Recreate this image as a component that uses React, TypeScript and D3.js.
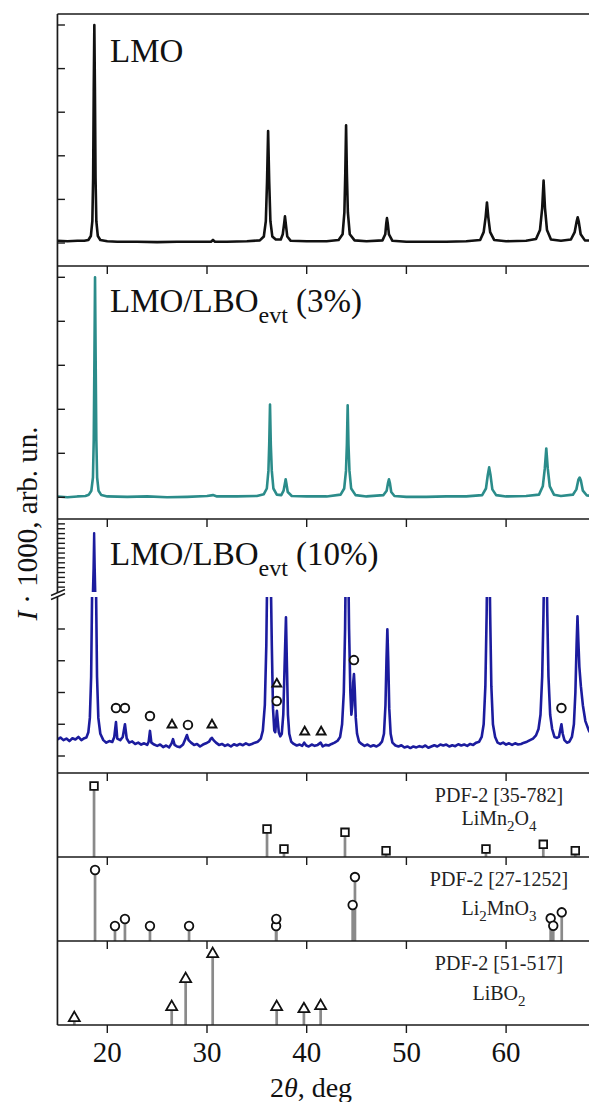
import React from 'react';
import * as d3 from 'd3';

// ---------- DATA ----------
// 2θ (deg) vs intensity (arb. units, panel scale)
const lmo: [number, number][] = [
  [15, 0.05], [16, 0.04], [17, 0.05], [17.7, 0.05], [18.1, 0.07], [18.35, 0.16], [18.5, 0.5], [18.58, 1.5],
  [18.64, 3.5], [18.7, 5.0], [18.76, 3.5], [18.82, 1.5], [18.9, 0.5], [19.05, 0.16], [19.3, 0.07],
  [20, 0.04], [21, 0.03], [23, 0.03], [25, 0.02], [27, 0.03], [29, 0.03], [30.4, 0.03], [30.6, 0.07],
  [30.8, 0.03], [32, 0.03], [34, 0.04], [35.3, 0.06], [35.7, 0.15], [35.9, 0.5], [36.02, 1.4], [36.13, 2.57],
  [36.24, 1.4], [36.36, 0.5], [36.55, 0.15], [36.9, 0.08], [37.4, 0.08], [37.6, 0.2], [37.74, 0.45],
  [37.82, 0.61], [37.9, 0.45], [38.05, 0.15], [38.4, 0.05], [40, 0.04], [42, 0.04], [43.2, 0.07],
  [43.6, 0.2], [43.78, 0.7], [43.87, 1.6], [43.95, 2.7], [44.03, 1.6], [44.13, 0.7], [44.32, 0.2],
  [44.8, 0.06], [46, 0.04], [47.6, 0.06], [47.88, 0.2], [47.98, 0.45], [48.05, 0.57], [48.13, 0.45],
  [48.25, 0.2], [48.6, 0.05], [50, 0.03], [52, 0.03], [54, 0.03], [56, 0.04], [57.4, 0.07], [57.75, 0.25],
  [57.95, 0.6], [58.08, 0.93], [58.21, 0.6], [58.4, 0.25], [58.8, 0.07], [60, 0.04], [62, 0.05], [63.0, 0.09],
  [63.4, 0.3], [63.62, 0.8], [63.76, 1.43], [63.9, 0.8], [64.1, 0.3], [64.5, 0.08], [65.5, 0.05],
  [66.5, 0.08], [66.88, 0.25], [67.08, 0.5], [67.18, 0.59], [67.28, 0.5], [67.48, 0.2], [67.9, 0.06], [70, 0.05],
];

const lmoLbo3: [number, number][] = [
  [15, 0.02], [16, 0.0], [17, 0.02], [17.8, 0.03], [18.15, 0.06], [18.4, 0.15], [18.56, 0.45], [18.64, 1.3],
  [18.71, 3.2], [18.77, 5.0], [18.83, 3.2], [18.9, 1.3], [18.98, 0.45], [19.12, 0.15], [19.4, 0.05],
  [20, 0.02], [22, 0.01], [24, 0.02], [26, 0.0], [28, 0.01], [30, 0.03], [30.6, 0.05], [31, 0.02], [33, 0.02],
  [35, 0.03], [35.7, 0.07], [36.0, 0.2], [36.16, 0.6], [36.24, 1.2], [36.32, 2.11], [36.4, 1.2], [36.5, 0.6],
  [36.66, 0.2], [37.0, 0.06], [37.45, 0.05], [37.68, 0.15], [37.82, 0.32], [37.89, 0.41], [37.96, 0.32],
  [38.1, 0.12], [38.5, 0.03], [40, 0.02], [42, 0.02], [43.4, 0.06], [43.76, 0.2], [43.94, 0.6], [44.03, 1.2],
  [44.11, 2.09], [44.19, 1.2], [44.29, 0.6], [44.46, 0.2], [44.9, 0.05], [46, 0.02], [47.7, 0.05],
  [48.02, 0.15], [48.16, 0.33], [48.25, 0.41], [48.34, 0.33], [48.48, 0.12], [48.8, 0.03], [50, 0.01],
  [52, 0.01], [54, 0.02], [56, 0.02], [57.6, 0.05], [57.98, 0.2], [58.16, 0.5], [58.3, 0.68], [58.44, 0.5],
  [58.62, 0.18], [59.0, 0.05], [60, 0.02], [62, 0.03], [63.3, 0.06], [63.68, 0.25], [63.88, 0.65],
  [64.03, 1.11], [64.18, 0.65], [64.38, 0.25], [64.8, 0.06], [65.5, 0.03], [66.7, 0.06], [67.05, 0.18],
  [67.25, 0.4], [67.38, 0.45], [67.5, 0.38], [67.7, 0.15], [68.1, 0.04], [70, 0.03],
];

const lmoLbo10: [number, number][] = [
  [15.0, 0.52], [15.3, 0.58], [15.6, 0.5], [15.9, 0.55], [16.2, 0.47], [16.5, 0.56], [16.8, 0.52],
  [17.1, 0.6], [17.4, 0.5], [17.7, 0.56], [17.9, 0.58], [18.1, 0.75], [18.25, 1.2], [18.38, 2.5],
  [18.47, 5], [18.55, 9], [18.62, 20], [18.68, 34.2], [18.74, 20], [18.8, 9], [18.88, 5], [18.97, 2.5],
  [19.1, 1.2], [19.3, 0.7], [19.6, 0.5], [19.9, 0.42], [20.2, 0.47], [20.5, 0.44], [20.7, 0.6],
  [20.87, 1.07], [21.0, 0.55], [21.3, 0.5], [21.55, 0.6], [21.77, 1.0], [21.95, 0.55], [22.2, 0.42],
  [22.5, 0.46], [22.8, 0.38], [23.1, 0.42], [23.4, 0.36], [23.7, 0.4], [24.0, 0.35], [24.15, 0.45],
  [24.28, 0.79], [24.42, 0.42], [24.7, 0.36], [25.0, 0.32], [25.3, 0.36], [25.6, 0.28], [25.9, 0.33],
  [26.2, 0.27], [26.45, 0.4], [26.59, 0.53], [26.75, 0.35], [27.0, 0.3], [27.3, 0.28], [27.6, 0.36],
  [27.85, 0.55], [27.99, 0.66], [28.15, 0.5], [28.4, 0.42], [28.7, 0.35], [29.0, 0.38], [29.3, 0.3],
  [29.6, 0.36], [29.9, 0.4], [30.2, 0.45], [30.4, 0.55], [30.5, 0.57], [30.65, 0.5], [30.9, 0.42],
  [31.2, 0.35], [31.5, 0.38], [31.8, 0.32], [32.1, 0.36], [32.4, 0.3], [32.7, 0.37], [33.0, 0.33],
  [33.3, 0.38], [33.6, 0.34], [33.9, 0.4], [34.2, 0.35], [34.5, 0.38], [34.8, 0.42], [35.1, 0.45],
  [35.4, 0.55], [35.6, 0.8], [35.8, 1.6], [35.95, 3.5], [36.05, 6], [36.22, 8], [36.38, 6], [36.5, 3.5],
  [36.62, 1.5], [36.75, 0.8], [36.85, 0.75], [36.93, 1.1], [37.01, 1.42], [37.1, 1.1], [37.2, 0.75],
  [37.35, 0.62], [37.5, 0.7], [37.65, 1.3], [37.78, 2.8], [37.92, 4.37], [38.02, 2.8], [38.12, 1.3],
  [38.25, 0.7], [38.45, 0.45], [38.7, 0.38], [39.0, 0.33], [39.3, 0.36], [39.55, 0.32], [39.75, 0.42],
  [39.95, 0.33], [40.2, 0.3], [40.5, 0.36], [40.8, 0.32], [41.1, 0.35], [41.4, 0.42], [41.6, 0.3],
  [41.9, 0.35], [42.2, 0.33], [42.5, 0.38], [42.8, 0.42], [43.1, 0.48], [43.35, 0.6], [43.55, 1.0],
  [43.72, 2.0], [43.85, 4.0], [43.95, 7], [44.04, 8], [44.13, 7], [44.25, 4.0], [44.38, 2.0], [44.48, 1.3],
  [44.58, 1.6], [44.66, 2.3], [44.74, 2.58], [44.82, 2.1], [44.92, 1.2], [45.05, 0.7], [45.25, 0.45],
  [45.5, 0.38], [45.8, 0.32], [46.1, 0.36], [46.4, 0.3], [46.7, 0.34], [47.0, 0.3], [47.3, 0.36],
  [47.55, 0.45], [47.75, 0.7], [47.9, 1.6], [48.0, 3.0], [48.09, 3.99], [48.18, 3.0], [48.28, 1.5],
  [48.42, 0.7], [48.6, 0.42], [48.9, 0.33], [49.2, 0.3], [49.5, 0.34], [49.8, 0.27], [50.1, 0.3],
  [50.4, 0.25], [50.7, 0.3], [51.0, 0.27], [51.3, 0.31], [51.6, 0.28], [51.9, 0.33], [52.2, 0.26],
  [52.5, 0.3], [52.8, 0.34], [53.1, 0.3], [53.4, 0.36], [53.7, 0.33], [54.0, 0.36], [54.3, 0.3],
  [54.6, 0.34], [54.9, 0.31], [55.2, 0.37], [55.5, 0.33], [55.8, 0.36], [56.1, 0.32], [56.4, 0.38],
  [56.7, 0.35], [57.0, 0.42], [57.3, 0.45], [57.55, 0.6], [57.75, 1.0], [57.92, 2.2], [58.05, 4.5],
  [58.14, 7], [58.22, 8], [58.3, 7], [58.4, 4.5], [58.52, 2.2], [58.68, 1.0], [58.9, 0.6], [59.15, 0.42],
  [59.4, 0.38], [59.7, 0.42], [60.0, 0.36], [60.3, 0.4], [60.6, 0.35], [60.9, 0.4], [61.2, 0.36],
  [61.5, 0.38], [61.8, 0.42], [62.1, 0.45], [62.4, 0.5], [62.7, 0.55], [63.0, 0.65], [63.25, 0.85],
  [63.45, 1.3], [63.62, 2.5], [63.75, 4.5], [63.86, 7], [63.94, 8], [64.02, 7], [64.13, 4.5], [64.25, 2.5],
  [64.42, 1.3], [64.62, 0.85], [64.85, 0.6], [65.1, 0.57], [65.3, 0.6], [65.42, 0.8], [65.55, 1.0],
  [65.68, 0.7], [65.85, 0.5], [66.1, 0.42], [66.35, 0.45], [66.6, 0.6], [66.8, 1.0], [66.95, 2.0],
  [67.07, 3.5], [67.16, 4.4], [67.25, 3.6], [67.35, 2.8], [67.5, 2.2], [67.7, 1.6], [67.95, 1.1],
  [68.3, 0.8], [68.7, 0.6], [69.2, 0.5], [70, 0.45],
];

// phase markers on the 10% pattern: [2θ, height, shape]
const marks10: [number, number, string][] = [
  [20.87, 1.51, 'circle'], [21.77, 1.51, 'circle'], [24.28, 1.26, 'circle'], [26.49, 0.98, 'triangle'],
  [28.09, 0.98, 'circle'], [30.5, 0.98, 'triangle'], [37.0, 2.27, 'triangle'], [37.0, 1.73, 'circle'],
  [39.8, 0.76, 'triangle'], [41.45, 0.76, 'triangle'], [44.74, 3.02, 'circle'], [65.55, 1.51, 'circle'],
];

// reference patterns: [2θ, I %]
const refLiMn2O4: [number, number][] = [
  [18.67, 100], [36.02, 39.4], [37.72, 11.3], [43.84, 34.8], [47.96, 8.9], [57.98, 11.3], [63.73, 17.9], [66.94, 8.9],
];
const refLi2MnO3: [number, number][] = [
  [18.77, 100], [20.77, 21.1], [21.77, 31], [24.28, 21.1], [28.2, 21.1], [36.93, 21.1], [36.95, 31],
  [44.61, 50.7], [44.84, 90.1], [64.47, 32], [64.73, 21.5], [65.58, 40.4],
];
const refLiBO2: [number, number][] = [
  [16.69, 9.9], [26.46, 25.4], [27.86, 64.8], [30.57, 100], [36.99, 25.4], [39.72, 22.5], [41.4, 26.8],
];

const xTicks = [20, 30, 40, 50, 60, 70];
const xTickLabels = ['20', '30', '40', '50', '60', '70'];
const yTicksMain = [0, 1, 2, 3, 4, 5];
const yTicksLow = [0, 1, 2, 3, 4];
const yTicksHigh = [12, 14, 16, 18, 20, 22, 24, 26, 28, 30, 32, 34, 36, 38];

// ---------- LAYOUT ----------
const W = 589;
const H = 1102;
const X0 = 57.45;
const XR = 640;
const FONT = "'Liberation Serif', 'Times New Roman', serif";
const AX = '#1a1a1a';

const x = d3.scaleLinear().domain([15, 70]).range([X0, 605.8]);

const P = [
  { top: 14, bot: 266 },
  { top: 266, bot: 519 },
  { top: 519, bot: 773 },
  { top: 773, bot: 857 },
  { top: 857, bot: 941 },
  { top: 941, bot: 1025 },
];

const y1 = d3.scaleLinear().domain([0, 5]).range([243, 25]);
const y2 = d3.scaleLinear().domain([0, 5]).range([497.3, 277.3]);
const y3lo = d3.scaleLinear().domain([0, 4]).range([756, 629]);
const y3hi = d3.scaleLinear().domain([10, 40]).range([592, 519]);
const yR4 = d3.scaleLinear().domain([0, 100]).range([857, 786]);
const yR5 = d3.scaleLinear().domain([0, 100]).range([941, 870]);
const yR6 = d3.scaleLinear().domain([0, 100]).range([1025, 954]);

const mkLine = (ys: d3.ScaleLinear<number, number>) =>
  d3.line<[number, number]>().x((d) => x(d[0])).y((d) => ys(d[1]));

const sym = (shape: string, size: number) => {
  const t = shape === 'circle' ? d3.symbolCircle : shape === 'square' ? d3.symbolSquare : d3.symbolTriangle;
  return d3.symbol().type(t).size(size)() as string;
};

function Sticks({ data, ys, shape, size }: { data: [number, number][]; ys: d3.ScaleLinear<number, number>; shape: string; size: number }) {
  return (
    <g>
      {data.map((d, i) => (
        <line key={'s' + i} x1={x(d[0])} x2={x(d[0])} y1={ys(0)} y2={ys(d[1])} stroke="#8a8a8a" strokeWidth={2.7} />
      ))}
      {data.map((d, i) => (
        <path key={'m' + i} d={sym(shape, size)} transform={`translate(${x(d[0])},${ys(d[1])})`}
          fill="#fff" stroke="#111" strokeWidth={1.8} />
      ))}
    </g>
  );
}

export default function App() {
  const xt = xTicks.map((t, i) => ({ t, label: xTickLabels[i] }));
  return (
    <svg width={W} height={H} style={{ position: 'absolute', left: 0, top: 0, background: '#fff' }}
      fontFamily={FONT}>
      <defs>
        {P.map((p, i) => (
          <clipPath id={'clip' + i} key={i}>
            <rect x={X0} y={p.top} width={XR - X0} height={p.bot - p.top} />
          </clipPath>
        ))}
        <clipPath id="clip3lo"><rect x={X0} y={597} width={XR - X0} height={773 - 597} /></clipPath>
        <clipPath id="clip3hi"><rect x={X0} y={519} width={XR - X0} height={592 - 519} /></clipPath>
      </defs>
      <rect x={0} y={0} width={W} height={H} fill="#fff" />

      {/* curves */}
      <path d={mkLine(y1)(lmo) as string} fill="none" stroke="#111" strokeWidth={2.6} strokeLinejoin="round" clipPath="url(#clip0)" />
      <path d={mkLine(y2)(lmoLbo3) as string} fill="none" stroke="#2b8c8a" strokeWidth={2.6} strokeLinejoin="round" clipPath="url(#clip1)" />
      <path d={mkLine(y3lo)(lmoLbo10) as string} fill="none" stroke="#1c1c9e" strokeWidth={2.6} strokeLinejoin="round" clipPath="url(#clip3lo)" />
      <path d={mkLine(y3hi)(lmoLbo10) as string} fill="none" stroke="#1c1c9e" strokeWidth={2.4} strokeLinejoin="round" clipPath="url(#clip3hi)" />

      {/* markers on 10% pattern */}
      {marks10.map((m, i) => (
        <path key={i} d={sym(m[2], m[2] === 'circle' ? 58 : 34)} transform={`translate(${x(m[0])},${y3lo(m[1])})`}
          fill="#fff" stroke="#111" strokeWidth={1.9} />
      ))}

      {/* reference sticks */}
      <g clipPath="url(#clip3)"><Sticks data={refLiMn2O4} ys={yR4} shape="square" size={58} /></g>
      <g clipPath="url(#clip4)"><Sticks data={refLi2MnO3} ys={yR5} shape="circle" size={58} /></g>
      <g clipPath="url(#clip5)"><Sticks data={refLiBO2} ys={yR6} shape="triangle" size={52} /></g>

      {/* frames */}
      <line x1={X0} x2={XR} y1={P[0].top} y2={P[0].top} stroke={AX} strokeWidth={1.7} />
      {P.map((p, i) => (
        <line key={'b' + i} x1={X0} x2={XR} y1={p.bot} y2={p.bot} stroke={AX} strokeWidth={1.7} />
      ))}
      <line x1={X0} x2={X0} y1={P[0].top} y2={P[5].bot} stroke={AX} strokeWidth={1.7} />

      {/* x ticks (outward, below each panel) */}
      {P.map((p, i) => (
        <g key={'xt' + i}>
          {xt.map((d) => (
            <line key={d.t} x1={x(d.t)} x2={x(d.t)} y1={p.bot} y2={p.bot + 8} stroke={AX} strokeWidth={1.4} />
          ))}
        </g>
      ))}

      {/* y ticks */}
      {yTicksMain.map((t) => (
        <line key={'a' + t} x1={X0} x2={X0 + 7.5} y1={y1(t)} y2={y1(t)} stroke={AX} strokeWidth={1.4} />
      ))}
      {yTicksMain.map((t) => (
        <line key={'b' + t} x1={X0} x2={X0 + 7.5} y1={y2(t)} y2={y2(t)} stroke={AX} strokeWidth={1.4} />
      ))}
      {yTicksLow.map((t) => (
        <line key={'c' + t} x1={X0} x2={X0 + 7.5} y1={y3lo(t)} y2={y3lo(t)} stroke={AX} strokeWidth={1.4} />
      ))}
      {yTicksHigh.map((t) => (
        <line key={'d' + t} x1={X0} x2={X0 + 7.5} y1={y3hi(t)} y2={y3hi(t)} stroke={AX} strokeWidth={1.4} />
      ))}

      {/* axis break */}
      <polygon points="51,595.5 65,589.5 65,593.5 51,599.5" fill="#fff" />
      <line x1={51} y1={595.5} x2={65} y2={589.5} stroke={AX} strokeWidth={1.4} />
      <line x1={51} y1={599.5} x2={65} y2={593.5} stroke={AX} strokeWidth={1.4} />

      {/* x tick labels (only those inside the visible width) */}
      {xt.filter((d) => x(d.t) + 16 <= W).map((d) => (
        <text key={d.t} x={x(d.t)} y={1062} fontSize={29} textAnchor="middle" fill="#111">{d.label}</text>
      ))}
      <text x={311} y={1097} fontSize={28} textAnchor="middle" fill="#111">
        2<tspan fontStyle="italic">θ</tspan>, deg
      </text>

      {/* y label */}
      <text transform="translate(37,523.5) rotate(-90)" fontSize={29} textAnchor="middle" fill="#111">
        <tspan fontStyle="italic">I</tspan> · 1000, arb. un.
      </text>

      {/* panel titles */}
      <text x={110} y={62} fontSize={33} fill="#111">LMO</text>
      <text x={110} y={312} fontSize={33} fill="#111">
        LMO/LBO<tspan fontSize={24} dy={11}>evt</tspan><tspan dy={-11}> (3%)</tspan>
      </text>
      <text x={110} y={565} fontSize={33} fill="#111">
        LMO/LBO<tspan fontSize={24} dy={11}>evt</tspan><tspan dy={-11}> (10%)</tspan>
      </text>

      {/* reference labels */}
      <g fontSize={20} fill="#222" textAnchor="middle">
        <text x={499} y={802}>PDF-2 [35-782]</text>
        <text x={499} y={825}>LiMn<tspan fontSize={15} dy={6}>2</tspan><tspan dy={-6}>O</tspan><tspan fontSize={15} dy={6}>4</tspan></text>
        <text x={499} y={886}>PDF-2 [27-1252]</text>
        <text x={499} y={915}>Li<tspan fontSize={15} dy={6}>2</tspan><tspan dy={-6}>MnO</tspan><tspan fontSize={15} dy={6}>3</tspan></text>
        <text x={499} y={970}>PDF-2 [51-517]</text>
        <text x={499} y={1000}>LiBO<tspan fontSize={15} dy={6}>2</tspan></text>
      </g>
    </svg>
  );
}
